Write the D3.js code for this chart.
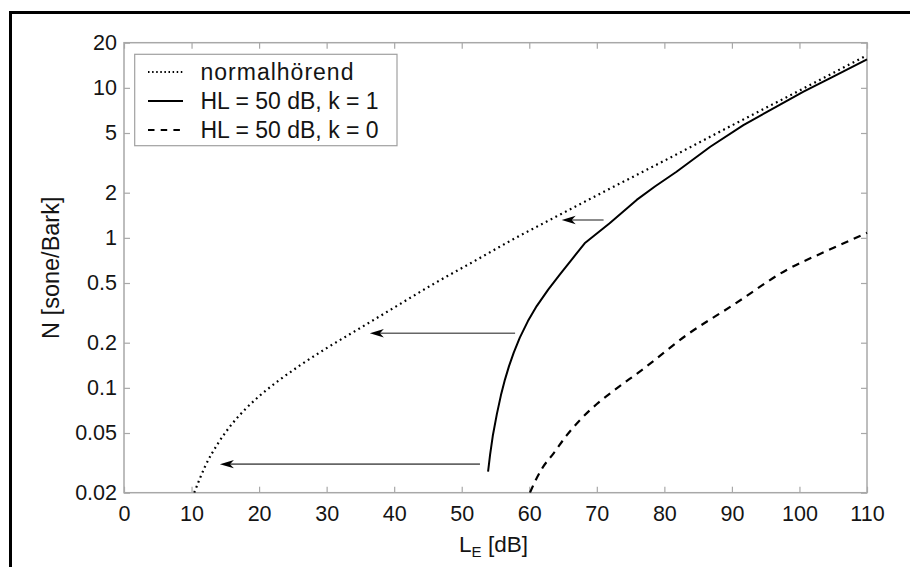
<!DOCTYPE html>
<html><head><meta charset="utf-8">
<script src="https://cdn.jsdelivr.net/npm/d3@7"></script>
<style>
html,body{margin:0;padding:0;background:#fff;}
text{font-family:"Liberation Sans",Arial,Helvetica,sans-serif;fill:#141414;}
</style></head>
<body>
<svg id="chart" width="910" height="567"></svg>
<script>
// ---- data ----
const xTicks = [0,10,20,30,40,50,60,70,80,90,100,110];
const yTicks = [0.02,0.05,0.1,0.2,0.5,1,2,5,10,20];
const yTickLabels = ["0.02","0.05","0.1","0.2","0.5","1","2","5","10","20"];
const seriesNames = ["normalhörend","HL = 50 dB, k = 1","HL = 50 dB, k = 0"];

const normalLevel = [10.4,12,14,16,18,20,23,26,30,35,40,46,52,58,64,70,80,90,100,110];
const normalN     = [0.0200,0.0299,0.0432,0.0575,0.0724,0.0879,0.1127,0.1406,0.184,0.251,0.343,0.498,0.705,1.0,1.387,1.919,3.27,5.62,9.6,16.5];

const k1Level = [53.9,54.2,54.6,55.2,55.8,56.4,57.0,57.7,58.6,59.8,61.1,62.8,64.6,66.4,68.2,71.9,75.9,78.6,81.8,86.8,91.7,96,100.6,105,110];
const k1N     = [0.0276,0.0359,0.0479,0.0668,0.0891,0.1135,0.1396,0.1718,0.2163,0.2786,0.3508,0.4519,0.5754,0.7278,0.9204,1.25,1.79,2.2,2.76,4.05,5.65,7.25,9.43,11.9,15.5];

const k0Level = [60.1,61,62,63.6,65.5,67.5,70,72,77,83.3,90.2,98.1,104,110];
const k0N     = [0.020,0.0245,0.0295,0.0366,0.048,0.061,0.078,0.092,0.135,0.225,0.357,0.611,0.817,1.08];

// arrows: from level, to level, at N
const arrowFrom  = [52.7, 57.9, 71.0];
const arrowTo    = [14.2, 36.4, 64.8];
const arrowLevel = [0.031, 0.231, 1.315];

// ---- drawing ----
const svg = d3.select("#chart");
const L = 124, R = 867, T = 42.7, B = 492.7;
const x = d3.scaleLinear().domain([0,110]).range([L,R]);
const y = d3.scaleLog().domain([0.02,20]).range([B,T]);

// outer figure frame (only top/left visible)
svg.append("rect").attr("x",10.5).attr("y",12.5).attr("width",960).attr("height",600)
  .attr("fill","none").attr("stroke","#000").attr("stroke-width",3);

// plot frame
svg.append("rect").attr("x",L).attr("y",T).attr("width",R-L).attr("height",B-T)
  .attr("fill","#fff").attr("stroke","#a8a8a8").attr("stroke-width",1.5);

const fs = 21.5;
function styleAxis(g){
  g.select(".domain").remove();
  g.selectAll(".tick line").attr("stroke","#a8a8a8").attr("stroke-width",1.2);
  g.selectAll(".tick text").attr("fill","#141414").style("font-size",fs+"px")
    .style("font-family",'"Liberation Sans",Arial,sans-serif');
}
svg.append("g").attr("transform",`translate(0,${B})`)
  .call(d3.axisBottom(x).tickValues(xTicks).tickFormat(d3.format("d")).tickSizeInner(-6).tickSizeOuter(0).tickPadding(13))
  .call(styleAxis);
svg.append("g").attr("transform",`translate(0,${T})`)
  .call(d3.axisTop(x).tickValues(xTicks).tickFormat("").tickSizeInner(-6).tickSizeOuter(0))
  .call(styleAxis);
svg.append("g").attr("transform",`translate(${L},0)`)
  .call(d3.axisLeft(y).tickValues(yTicks).tickFormat((d,i)=>yTickLabels[i]).tickSizeInner(-6).tickSizeOuter(0).tickPadding(7))
  .call(styleAxis);
svg.append("g").attr("transform",`translate(${R},0)`)
  .call(d3.axisRight(y).tickValues(yTicks).tickFormat("").tickSizeInner(-6).tickSizeOuter(0))
  .call(styleAxis);

// axis titles
svg.append("text").attr("transform",`translate(59,${(T+B)/2}) rotate(-90)`)
  .attr("text-anchor","middle").style("font-size","23.5px").text("N [sone/Bark]");
const xt = svg.append("text").attr("x",(L+R)/2 - 2).attr("y",552).attr("text-anchor","middle").style("font-size","22.5px");
xt.append("tspan").text("L");
xt.append("tspan").attr("dy",5).style("font-size","15px").text("E");
xt.append("tspan").attr("dy",-5).text(" [dB]");

// curves
const smooth = d3.line().x(d=>x(d[0])).y(d=>y(d[1])).curve(d3.curveMonotoneX);
const straight = d3.line().x(d=>x(d[0])).y(d=>y(d[1]));
svg.append("clipPath").attr("id","clip").append("rect")
  .attr("x",L).attr("y",T-2).attr("width",R-L+2).attr("height",B-T+2);
const curves = svg.append("g").attr("clip-path","url(#clip)");
const dash = ["1.8,3.6", null, "7.5,6"];
const series = [
  d3.zip(normalLevel, normalN),
  d3.zip(k1Level, k1N),
  d3.zip(k0Level, k0N)
];
series.forEach((s,i)=>{
  curves.append("path").attr("d",(i===1?straight:smooth)(s)).attr("fill","none").attr("stroke","#000")
    .attr("stroke-width", i===1?2:2.2).attr("stroke-linejoin","round").attr("stroke-dasharray",dash[i]);
});

// arrows
arrowFrom.forEach((f,i)=>{
  const yy = y(arrowLevel[i]);
  const x1 = x(f), x2 = x(arrowTo[i]);
  svg.append("line").attr("x1",x1).attr("x2",x2+8).attr("y1",yy).attr("y2",yy)
    .attr("stroke","#666").attr("stroke-width",1.6);
  svg.append("path").attr("d",`M${x2},${yy} L${x2+14},${yy-4.2} L${x2+10},${yy} L${x2+14},${yy+4.2} Z`)
    .attr("fill","#000");
});

// legend
const lg = svg.append("g");
lg.append("rect").attr("x",134.7).attr("y",54.3).attr("width",262.3).attr("height",91.4)
  .attr("fill","#fff").attr("stroke","#a0a0a0").attr("stroke-width",1.2);
const rowY = [72, 101, 130];
const spacing = ["1px","0px","0px"];
seriesNames.forEach((n,i)=>{
  lg.append("line").attr("x1",148).attr("x2",183).attr("y1",rowY[i]).attr("y2",rowY[i])
    .attr("stroke","#000").attr("stroke-width", i===1?2:2.2).attr("stroke-dasharray", i===0?"1.5,2.6":(i===2?"6.5,6.2":null));
  lg.append("text").attr("x",200.5).attr("y",rowY[i]+8).style("font-size","23px")
    .style("letter-spacing",spacing[i]).text(n);
});
</script>
</body></html>
